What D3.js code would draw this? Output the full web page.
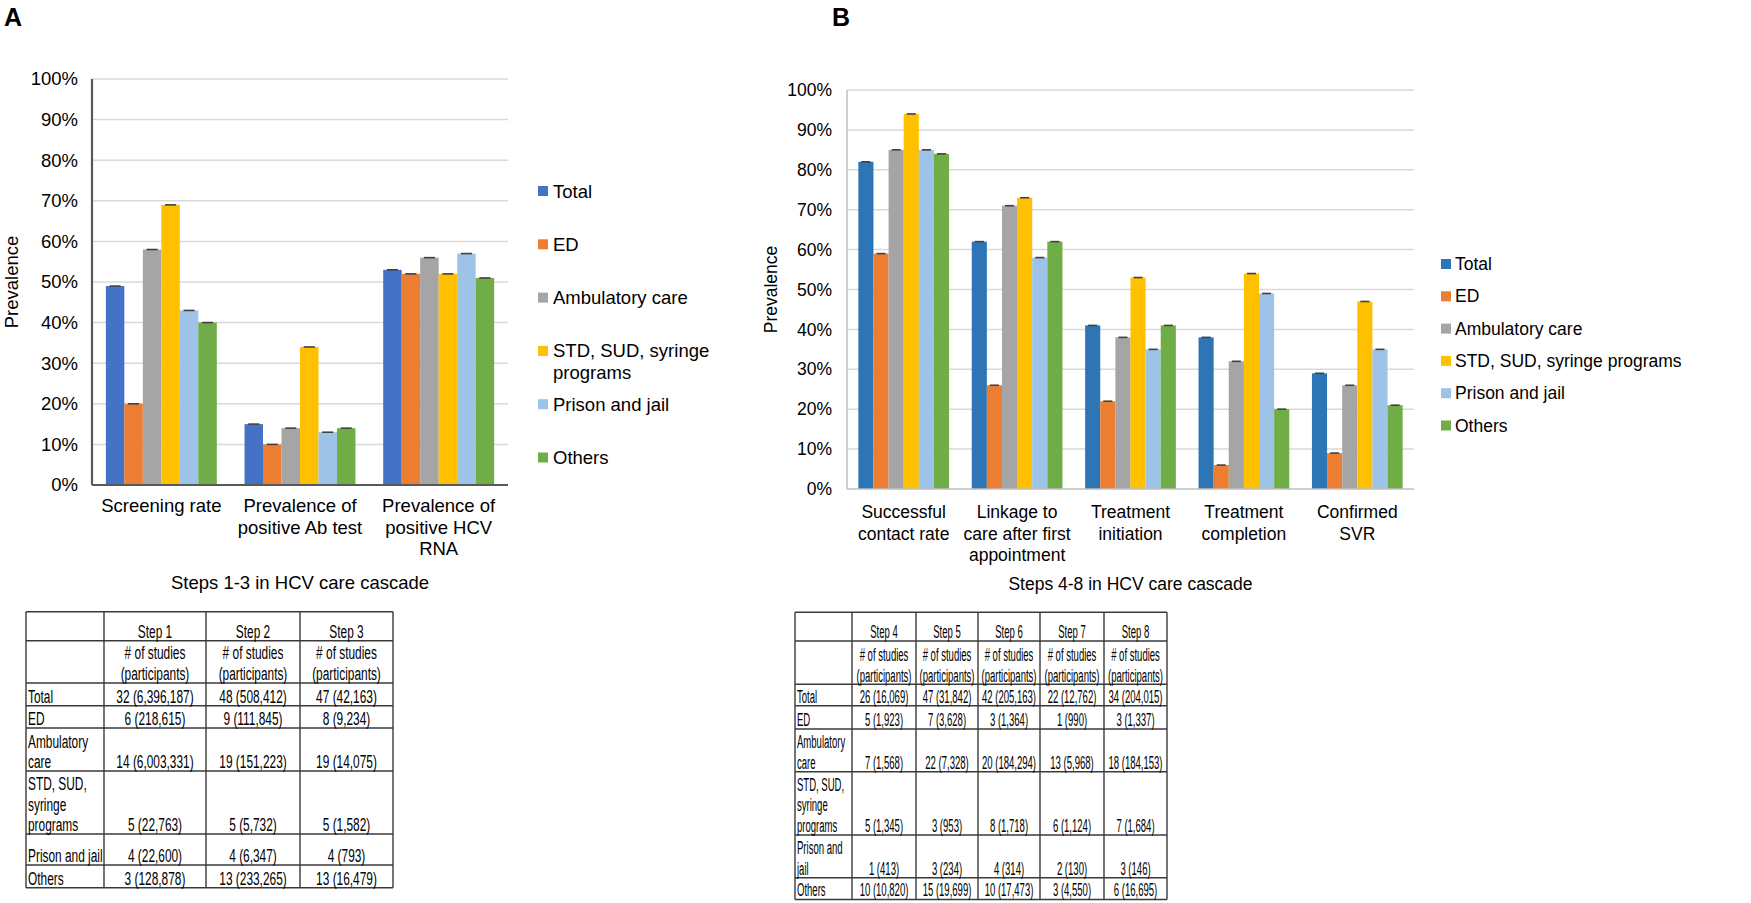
<!DOCTYPE html>
<html><head><meta charset="utf-8">
<script src="https://cdn.jsdelivr.net/npm/d3@7"></script>
<style>
body{margin:0;background:#fff}
svg{display:block}
text{font-family:"Liberation Sans",Arial,Helvetica,sans-serif;fill:#000}
</style>
</head><body>
<svg id="c" width="1751" height="903"></svg>
<script>
// ---------------- DATA ----------------
const seriesNames = ["Total","ED","Ambulatory care","STD, SUD, syringe programs","Prison and jail","Others"];
const legendLinesA = [["Total"],["ED"],["Ambulatory care"],["STD, SUD, syringe","programs"],["Prison and jail"],["Others"]];
const legendLinesB = [["Total"],["ED"],["Ambulatory care"],["STD, SUD, syringe programs"],["Prison and jail"],["Others"]];
const colorsA = ["#4472C4","#ED7D31","#A5A5A5","#FFC000","#9DC3E6","#70AD47"];
const colorsB = ["#2E75B6","#ED7D31","#A5A5A5","#FFC000","#9DC3E6","#70AD47"];

const categoriesA = ["Screening rate","Prevalence of positive Ab test","Prevalence of positive HCV RNA"];
const categoryLinesA = [["Screening rate"],["Prevalence of","positive Ab test"],["Prevalence of","positive HCV","RNA"]];
const totalA   = [49,15,53];
const edA      = [20,10,52];
const ambA     = [58,14,56];
const stdA     = [69,34,52];
const prisonA  = [43,13,57];
const othersA  = [40,14,51];

const categoriesB = ["Successful contact rate","Linkage to care after first appointment","Treatment initiation","Treatment completion","Confirmed SVR"];
const categoryLinesB = [["Successful","contact rate"],["Linkage to","care after first","appointment"],["Treatment","initiation"],["Treatment","completion"],["Confirmed","SVR"]];
const totalB   = [82,62,41,38,29];
const edB      = [59,26,22,6,9];
const ambB     = [85,71,38,32,26];
const stdB     = [94,73,53,54,47];
const prisonB  = [85,58,35,49,35];
const othersB  = [84,62,41,20,21];

const yTicks = [0,10,20,30,40,50,60,70,80,90,100];
const yLabel = "Prevalence";
const captionA = "Steps 1-3 in HCV care cascade";
const captionB = "Steps 4-8 in HCV care cascade";

const tableStepsA = ["Step 1","Step 2","Step 3"];
const tableStepsB = ["Step 4","Step 5","Step 6","Step 7","Step 8"];
const tableSubHeader = ["# of studies","(participants)"];
const tableRowLabelsA = [["Total"],["ED"],["Ambulatory","care"],["STD, SUD,","syringe","programs"],["Prison and jail"],["Others"]];
const tableRowLabelsB = [["Total"],["ED"],["Ambulatory","care"],["STD, SUD,","syringe","programs"],["Prison and","jail"],["Others"]];
const tableValuesA = [
  ["32 (6,396,187)","48 (508,412)","47 (42,163)"],
  ["6 (218,615)","9 (111,845)","8 (9,234)"],
  ["14 (6,003,331)","19 (151,223)","19 (14,075)"],
  ["5 (22,763)","5 (5,732)","5 (1,582)"],
  ["4 (22,600)","4 (6,347)","4 (793)"],
  ["3 (128,878)","13 (233,265)","13 (16,479)"]
];
const tableValuesB = [
  ["26 (16,069)","47 (31,842)","42 (205,163)","22 (12,762)","34 (204,015)"],
  ["5 (1,923)","7 (3,628)","3 (1,364)","1 (990)","3 (1,337)"],
  ["7 (1,568)","22 (7,328)","20 (184,294)","13 (5,968)","18 (184,153)"],
  ["5 (1,345)","3 (953)","8 (1,718)","6 (1,124)","7 (1,684)"],
  ["1 (413)","3 (234)","4 (314)","2 (130)","3 (146)"],
  ["10 (10,820)","15 (19,699)","10 (17,473)","3 (4,550)","6 (16,695)"]
];

// ---------------- DRAW ----------------
const svg = d3.select("#c");

function drawChart(o){
  const FS = o.fs;
  const g = svg.append("g");
  const x0 = d3.scaleBand().domain(o.categories).range([o.left,o.right]).paddingInner(0.2).paddingOuter(0.1);
  const x1 = d3.scaleBand().domain(seriesNames).range([0,x0.bandwidth()]);
  const y = d3.scaleLinear().domain([0,100]).range([o.bottom,o.top]);

  g.append("g").selectAll("line").data(yTicks.filter(t=>t>0)).join("line")
    .attr("x1",o.left).attr("x2",o.right)
    .attr("y1",d=>y(d)).attr("y2",d=>y(d))
    .attr("stroke","#D9D9D9").attr("stroke-width",1.5);

  const ya = d3.axisLeft(y).tickValues(yTicks).tickFormat(d=>d+"%").tickSize(0).tickPadding(o.tickPad);
  const ag = g.append("g").attr("transform",`translate(${o.left},0)`).call(ya);
  ag.select(".domain").remove();
  ag.selectAll("text").attr("font-size",FS).attr("fill","#000")
    .style("font-family",'"Liberation Sans",Arial,sans-serif');

  const flat = o.values.map((arr,si)=>arr.map((v,ci)=>({s:seriesNames[si],si,c:o.categories[ci],v}))).flat();
  g.append("g").selectAll("rect").data(flat).join("rect")
    .attr("x",d=>x0(d.c)+x1(d.s)).attr("width",x1.bandwidth())
    .attr("y",d=>y(d.v)).attr("height",d=>y(0)-y(d.v))
    .attr("fill",d=>o.colors[d.si]);
  g.append("g").selectAll("line").data(flat).join("line")
    .attr("x1",d=>x0(d.c)+x1(d.s)+x1.bandwidth()*0.2)
    .attr("x2",d=>x0(d.c)+x1(d.s)+x1.bandwidth()*0.8)
    .attr("y1",d=>y(d.v)).attr("y2",d=>y(d.v))
    .attr("stroke","#404040").attr("stroke-width",1.6);

  g.append("line").attr("x1",o.left).attr("x2",o.left).attr("y1",y(100)).attr("y2",y(0))
    .attr("stroke",o.axisColor).attr("stroke-width",o.axisWidth);
  g.append("line").attr("x1",o.left).attr("x2",o.right).attr("y1",y(0)).attr("y2",y(0))
    .attr("stroke",o.axisColor).attr("stroke-width",o.axisWidth);

  o.categories.forEach((c,i)=>{
    const t = g.append("text").attr("text-anchor","middle").attr("font-size",FS);
    o.catLines[i].forEach((ln,j)=>{
      t.append("tspan").attr("x",x0(c)+x0.bandwidth()/2)
        .attr("y",y(0)+o.catDy+j*21.5).attr("dominant-baseline","central").text(ln);
    });
  });

  g.append("text").attr("transform",`translate(${o.yLabelX},${(y(0)+y(100))/2}) rotate(-90)`)
    .attr("text-anchor","middle").attr("dominant-baseline","central").attr("font-size",FS).text(yLabel);

  g.append("text").attr("x",(o.left+o.right)/2).attr("y",o.captionY).attr("text-anchor","middle")
    .attr("dominant-baseline","central").attr("font-size",FS).text(o.caption);

  o.legendLines.forEach((lines,i)=>{
    const ly = o.legendY + i*o.legendStep;
    g.append("rect").attr("x",o.legendX).attr("y",ly-5).attr("width",10).attr("height",10).attr("fill",o.colors[i]);
    lines.forEach((ln,j)=>{
      g.append("text").attr("x",o.legendX+o.legendTextDx).attr("y",ly+j*21.5)
        .attr("dominant-baseline","central").attr("font-size",FS).text(ln);
    });
  });
}

drawChart({
  categories:categoriesA, catLines:categoryLinesA, fs:18.5,
  values:[totalA,edA,ambA,stdA,prisonA,othersA], colors:colorsA,
  left:92, right:508, top:79, bottom:485, tickPad:14,
  axisColor:"#595959", axisWidth:2.2, catDy:20.5,
  yLabelX:11, captionY:582, caption:captionA,
  legendLines:legendLinesA, legendX:538, legendTextDx:15, legendY:191, legendStep:53.3
});
drawChart({
  categories:categoriesB, catLines:categoryLinesB, fs:17.5,
  values:[totalB,edB,ambB,stdB,prisonB,othersB], colors:colorsB,
  left:847, right:1414, top:90, bottom:489, tickPad:15,
  axisColor:"#BFBFBF", axisWidth:1.5, catDy:23,
  yLabelX:771, captionY:584, caption:captionB,
  legendLines:legendLinesB, legendX:1441, legendTextDx:14, legendY:264, legendStep:32.3
});

svg.append("text").attr("x",4).attr("y",26).attr("font-size",25).attr("font-weight","bold").text("A");
svg.append("text").attr("x",832).attr("y",26).attr("font-size",25).attr("font-weight","bold").text("B");

function drawTable(o){
  const g = svg.append("g");
  const fs = 18;
  const put = (x,y,txt,anchor)=>{
    g.append("text").attr("transform",`translate(${x},${y}) scale(${o.sx},1)`)
      .attr("text-anchor",anchor).attr("dominant-baseline","central").attr("font-size",fs).text(txt);
  };
  const cols = o.colX, rows = o.rowY;
  rows.forEach(r=>g.append("line").attr("x1",cols[0]).attr("x2",cols[cols.length-1]).attr("y1",r).attr("y2",r)
    .attr("stroke","#3a3a3a").attr("stroke-width",1.4));
  cols.forEach(c=>g.append("line").attr("x1",c).attr("x2",c).attr("y1",rows[0]).attr("y2",rows[rows.length-1])
    .attr("stroke","#3a3a3a").attr("stroke-width",1.4));
  const cx = i=>(cols[i+1]+cols[i+2])/2;
  o.steps.forEach((s,i)=>put(cx(i),rows[1]-9,s,"middle"));
  o.steps.forEach((s,i)=>{
    put(cx(i),rows[2]-9-21,tableSubHeader[0],"middle");
    put(cx(i),rows[2]-9,tableSubHeader[1],"middle");
  });
  o.labels.forEach((lines,r)=>{
    const b = rows[r+3]-9.3;
    lines.forEach((ln,j)=>put(cols[0]+2,b-(lines.length-1-j)*20.5,ln,"start"));
    o.values[r].forEach((v,i)=>put(cx(i),b,v,"middle"));
  });
}
drawTable({colX:[26,104,206,300,393], rowY:[611.7,640.7,683,705.7,728,771,834,865,887.7], sx:0.66,
  steps:tableStepsA, labels:tableRowLabelsA, values:tableValuesA});
drawTable({colX:[795,852,916,978,1040,1104,1167], rowY:[612.3,641,684.3,705.7,729,771.7,835,877.7,899.5], sx:0.53,
  steps:tableStepsB, labels:tableRowLabelsB, values:tableValuesB});
</script>
</body></html>
